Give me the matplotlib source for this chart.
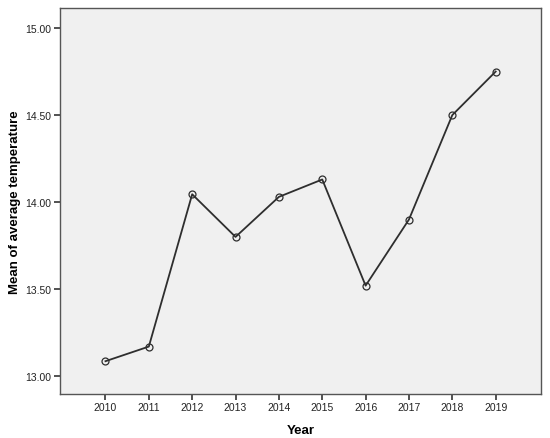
import matplotlib
matplotlib.use("Agg")
import matplotlib.pyplot as plt

# values
years = ["2010", "2011", "2012", "2013", "2014", "2015", "2016", "2017", "2018", "2019"]
mean_temp = [13.086, 13.17, 14.045, 13.80, 14.03, 14.13, 13.52, 13.90, 14.50, 14.75]
y_ticks = [13.0, 13.5, 14.0, 14.5, 15.0]

plt.rcParams["font.family"] = ["Liberation Sans", "DejaVu Sans"]

fig = plt.figure(figsize=(5.5, 4.39), dpi=100)
ax = fig.add_axes([0.109, 0.1, 0.875, 0.8795])
ax.set_facecolor("#f0f0f0")

x = list(range(len(years)))
ax.plot(x, mean_temp, color="#2e2e2e", lw=1.3, marker="o", markersize=5,
        markerfacecolor="none", markeredgecolor="#2e2e2e", markeredgewidth=0.9)

ax.set_xlim(-1.05, len(years) - 1 + 1.05)
ax.set_ylim(12.897, 15.115)
ax.set_xticks(x)
ax.set_xticklabels(years)
ax.set_yticks(y_ticks)
ax.set_yticklabels([f"{v:.2f}" for v in y_ticks])

ax.tick_params(axis="both", direction="out", length=4, width=1.2, color="#333333",
               labelsize=7.5, labelcolor="#222222", pad=2)
for s in ax.spines.values():
    s.set_color("#555555")
    s.set_linewidth(1.0)

ax.set_xlabel("Year", fontsize=9.5, fontweight="bold", labelpad=8)
ax.set_ylabel("Mean of average temperature", fontsize=9.5, fontweight="bold", labelpad=3)

fig.savefig("out.png", dpi=100)
